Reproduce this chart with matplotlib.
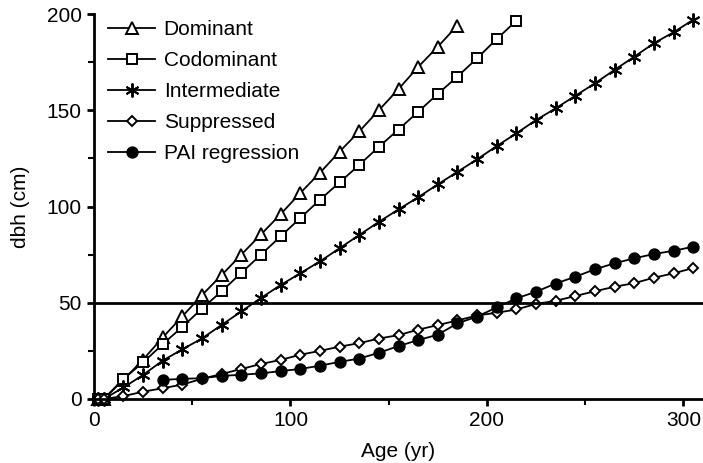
import numpy as np
import matplotlib
matplotlib.use("Agg")
import matplotlib.pyplot as plt
from matplotlib.ticker import MultipleLocator

plt.rcParams["font.family"] = ["Liberation Sans", "DejaVu Sans"]

# =====================================================
# Data (age in yr, dbh in cm)
# =====================================================
age_dom = [2, 5, 15, 25, 35, 45, 55, 65, 75, 85, 95, 105, 115, 125, 135, 145,
           155, 165, 175, 185]
dbh_dom = [0, 0, 10, 20.5, 32, 43, 54, 64.4, 75, 85.5, 96, 107, 117.5, 128.5,
           139, 150, 161, 172.5, 183, 194]

age_codom = [2, 5, 15, 25, 35, 45, 55, 65, 75, 85, 95, 105, 115, 125, 135, 145,
             155, 165, 175, 185, 195, 205, 215]
dbh_codom = [0, 0, 10.5, 19, 28.5, 37.5, 47, 56, 65.5, 75, 84.5, 94, 103.5,
             112.5, 121.6, 131, 140, 149.2, 158.5, 167.5, 177, 187, 196.5]

age_int = [2, 5, 15, 25, 35, 45, 55, 65, 75, 85, 95, 105, 115, 125, 135, 145,
           155, 165, 175, 185, 195, 205, 215, 225, 235, 245, 255, 265, 275, 285,
           295, 305]
dbh_int = [0, 0, 6, 12.5, 20, 25.8, 31.5, 38.5, 45.5, 52.5, 59.2, 65.3, 71.5,
           78.3, 85.2, 92, 98.5, 104.8, 111.5, 118, 124.5, 131.4, 138, 144.9,
           151, 157.5, 164, 171, 177.8, 184.8, 190.5, 197]

age_sup = age_int
dbh_sup = [0, 0, 1.5, 3.8, 5.6, 7.5, 10.5, 13, 15.6, 18.2, 20.3, 23, 25, 27.2,
           29, 31.4, 33.2, 36, 38.4, 40.8, 43.4, 44.8, 46.5, 49.4, 51, 53.5, 56,
           58.3, 60.2, 63, 65.3, 68]

age_pai = [35, 45, 55, 65, 75, 85, 95, 105, 115, 125, 135, 145, 155, 165, 175,
           185, 195, 205, 215, 225, 235, 245, 255, 265, 275, 285, 295, 305]
dbh_pai = [9.9, 10.5, 10.8, 12, 12.6, 13.3, 14.5, 15.6, 17.3, 19.3, 21, 24, 27.5,
           30.6, 33.4, 39.3, 42.8, 47.6, 52.3, 55.7, 60, 63.5, 67.4, 70.5, 73.1,
           75.3, 77, 79.1]

ref_dbh = 50

# =====================================================
# Plot
# =====================================================
fig = plt.figure(figsize=(7.03, 4.63), dpi=100)
ax = fig.add_axes([94 / 703, 64 / 463, 609 / 703, 385 / 463])

line_kw = dict(color="black", lw=1.3, mec="black", mew=1.4, clip_on=False)

ax.plot(age_dom, dbh_dom, marker="^", ms=8.5, mfc="white", label="Dominant", **line_kw)
ax.plot(age_codom, dbh_codom, marker="s", ms=7, mfc="white", label="Codominant", **line_kw)
ax.plot(age_int, dbh_int, marker=(6, 2, 0), ms=10, label="Intermediate", **line_kw)
ax.plot(age_sup, dbh_sup, marker="D", ms=5.5, mfc="white", label="Suppressed", **line_kw)
ax.plot(age_pai, dbh_pai, marker="o", ms=7.5, mfc="black", label="PAI regression", **line_kw)

ax.axhline(ref_dbh, color="black", lw=2)

ax.set_xlim(0, 310)
ax.set_ylim(0, 200)
ax.xaxis.set_major_locator(MultipleLocator(100))
ax.xaxis.set_minor_locator(MultipleLocator(50))
ax.yaxis.set_major_locator(MultipleLocator(50))
ax.yaxis.set_minor_locator(MultipleLocator(25))

for s in ["top", "right"]:
    ax.spines[s].set_visible(False)
for s in ["left", "bottom"]:
    ax.spines[s].set_linewidth(2)

ax.tick_params(which="major", direction="out", length=5, width=2, labelsize=15, pad=4)
ax.tick_params(which="minor", direction="out", length=4, width=1.5)

ax.set_xlabel("Age (yr)", fontsize=15, labelpad=8)
ax.set_ylabel("dbh (cm)", fontsize=15, labelpad=12)

ax.legend(loc="upper left", bbox_to_anchor=(-0.007, 1.032), frameon=False, fontsize=15,
          numpoints=1, handlelength=2.25, handletextpad=0.4, labelspacing=0.57,
          borderaxespad=0.5)

fig.savefig("out.png", dpi=100)
